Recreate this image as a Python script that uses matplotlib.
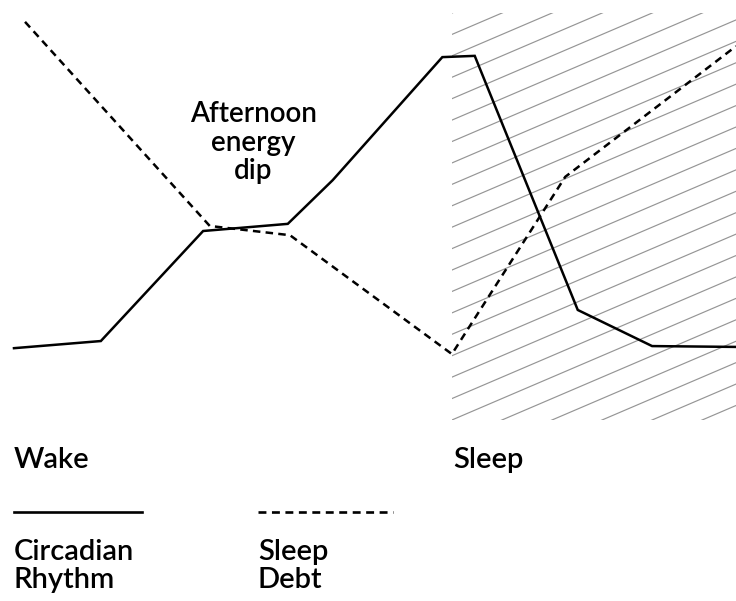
import matplotlib.pyplot as plt
from matplotlib.lines import Line2D
from matplotlib.patches import Rectangle
import numpy as np

plt.rcParams['font.family'] = ['Lato', 'DejaVu Sans']
plt.rcParams['font.weight'] = 'semibold'

# time of day (0-100) and relative level (0-100)
circ_x = [1.9, 13.7, 27.6, 39.1, 45.2, 60.1, 64.5, 78.5, 88.6, 100]
circ_y = [17.1, 18.8, 45.0, 46.7, 57.1, 86.4, 86.7, 26.2, 17.6, 17.4]
debt_x = [3.4, 28.5, 39.4, 61.4, 76.8, 100]
debt_y = [94.8, 46.2, 44.0, 15.7, 57.9, 89.0]
sleep_start = 61.4
sleep_top = 97

W, H = 736, 601
fig = plt.figure(figsize=(W / 100, H / 100), dpi=100)
ax = fig.add_axes([0, 1 - 420 / H, 1, 420 / H])
ax.set_xlim(0, 100)
ax.set_ylim(0, 100)
ax.axis('off')

# hatched sleep area
rect = Rectangle((sleep_start, 0), 100 - sleep_start, sleep_top,
                 facecolor='none', edgecolor='none')
ax.add_patch(rect)
slope = 0.75
step = 5.1
for k in range(-20, 40):
    y0 = k * step
    xs = np.array([sleep_start, 100])
    ys = y0 + slope * (xs - sleep_start)
    ln, = ax.plot(xs, ys, color='#959595', lw=0.85)
    ln.set_clip_path(rect)

ax.plot(circ_x, circ_y, color='black', lw=1.8, solid_joinstyle='miter')
ax.plot(debt_x, debt_y, color='black', lw=1.8, linestyle=(0, (3.0, 2.1)))

def fy(py):
    return 1 - py / H

fig.text(253 / W, fy(101), 'Afternoon\nenergy\ndip', ha='center',
         va='top', fontsize=20, linespacing=1.12)

fig.text(14 / W, fy(468), 'Wake', fontsize=21, va='baseline')
fig.text(453 / W, fy(468), 'Sleep', fontsize=21, va='baseline')

fig.add_artist(Line2D([14 / W, 142 / W], [fy(512), fy(512)],
                      color='black', lw=1.9))
fig.add_artist(Line2D([258 / W, 393 / W], [fy(512), fy(512)],
                      color='black', lw=1.9, linestyle=(0, (3.0, 2.1))))
fig.text(14 / W, fy(539), 'Circadian\nRhythm', fontsize=21, va='top',
         linespacing=1.08)
fig.text(258 / W, fy(539), 'Sleep\nDebt', fontsize=21, va='top',
         linespacing=1.08)

fig.savefig('out.png', dpi=100)
